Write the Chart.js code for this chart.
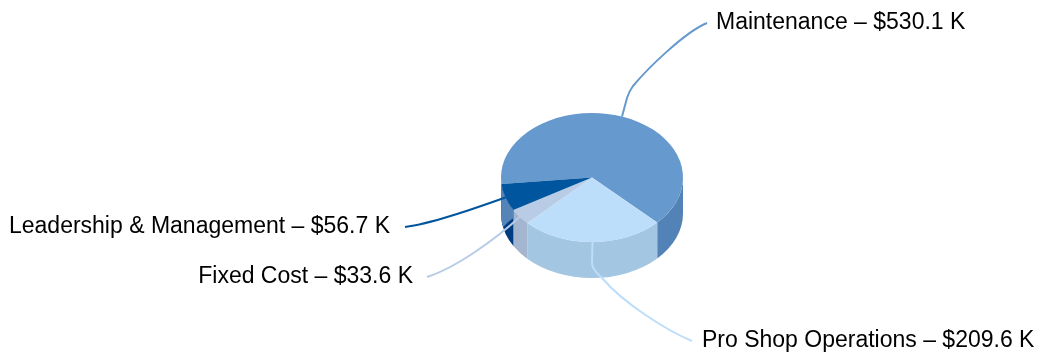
<!DOCTYPE html>
<html>
<head>
<meta charset="utf-8">
<title>Cost breakdown</title>
<script src="https://cdn.jsdelivr.net/npm/chart.js@4/dist/chart.umd.min.js"></script>
<style>
  html, body { margin: 0; padding: 0; background: #fff; }
  canvas { display: block; }
</style>
</head>
<body>
<canvas id="costPie" width="1038" height="354"></canvas>
<script>
const categories = ["Maintenance", "Pro Shop Operations", "Fixed Cost", "Leadership & Management"];
const costs = [530.1, 209.6, 33.6, 56.7];

const topColors = ["#6699cd", "#bddefa", "#b8cce6", "#00569e"];
const wallColors = ["#5382b6", "#a3c6e3", "#a3b5cf", "#003c82"];
const wallShadeColor = "#5585b8";

// squash and thickness of the fake 3d disc
const squash = 0.709;
const depth = 36;

// label text anchor and the curve running from the slice out to it
const labelLayout = [
    { x: 716, y: 29, align: "left", curve: [[627, 98], [629, 92, 630, 90, 633, 86], [648, 68, 685, 32, 707, 23]] },
    { x: 702, y: 347, align: "left", curve: [[592, 264], [594, 272, 598, 274, 602, 278], [625, 305, 670, 332, 692, 341]] },
    { x: 413, y: 283, align: "right", curve: [[495, 240, 455, 268, 427, 277]] },
    { x: 390, y: 233, align: "right", curve: [[470, 210, 430, 224, 405, 227]] }
];

function wallPath(ctx, arc, from, to) {
    const ry = arc.outerRadius * squash;
    ctx.beginPath();
    ctx.ellipse(arc.x, arc.y, arc.outerRadius, ry, 0, from, to);
    ctx.ellipse(arc.x, arc.y + depth, arc.outerRadius, ry, 0, to, from, true);
    ctx.closePath();
}

// upper part of the leadership wall is lighter, cut off by a slanted edge
function shadeWall(ctx, arc) {
    const ry = arc.outerRadius * squash;
    const from = arc.startAngle - 2 * Math.PI;
    const to = arc.endAngle - 2 * Math.PI;
    const steps = 16;
    ctx.beginPath();
    ctx.ellipse(arc.x, arc.y, arc.outerRadius, ry, 0, from, to);
    for (let i = steps; i >= 0; i--) {
        const t = from + (to - from) * i / steps;
        const f = Math.min(1, 0.22 + 1.08 * i / steps);
        ctx.lineTo(arc.x + arc.outerRadius * Math.cos(t), arc.y + ry * Math.sin(t) + depth * f);
    }
    ctx.closePath();
    ctx.fillStyle = wallShadeColor;
    ctx.fill();
}

const discPlugin = {
    id: "disc",
    beforeDatasetsDraw(chart) {
        const ctx = chart.ctx;
        const arcs = chart.getDatasetMeta(0).data;
        const twoPi = 2 * Math.PI;

        ctx.save();
        arcs.forEach((arc, i) => {
            // only the front half of the rim can be seen
            [0, twoPi].forEach(turn => {
                const from = Math.max(arc.startAngle, turn);
                const to = Math.min(arc.endAngle, turn + Math.PI);
                if (to <= from) return;
                wallPath(ctx, arc, from, to);
                ctx.fillStyle = wallColors[i];
                ctx.fill();
            });
        });
        shadeWall(ctx, arcs[3]);
        ctx.restore();

        // flatten the pie itself
        const { x, y } = arcs[0];
        ctx.save();
        ctx.translate(x, y);
        ctx.scale(1, squash);
        ctx.translate(-x, -y);
    },
    afterDatasetsDraw(chart) {
        const ctx = chart.ctx;
        ctx.restore();

        chart.getDatasetMeta(0).data.forEach((arc, i) => {
            const mid = (arc.startAngle + arc.endAngle) / 2;
            const sx = arc.x + arc.outerRadius * Math.cos(mid);
            const sy = arc.y + arc.outerRadius * squash * Math.sin(mid);
            const layout = labelLayout[i];

            ctx.save();
            ctx.strokeStyle = topColors[i];
            ctx.lineWidth = 2;
            ctx.lineJoin = "round";
            ctx.beginPath();
            ctx.moveTo(sx, sy);
            layout.curve.forEach(p => {
                if (p.length === 2) ctx.lineTo(p[0], p[1]);
                else ctx.bezierCurveTo(p[0], p[1], p[2], p[3], p[4], p[5]);
            });
            ctx.stroke();

            ctx.fillStyle = "#000";
            ctx.font = '23px "Liberation Sans", Arial, sans-serif';
            ctx.textAlign = layout.align;
            ctx.textBaseline = "alphabetic";
            ctx.fillText(categories[i] + " \u2013 $" + costs[i].toFixed(1) + " K", layout.x, layout.y);
            ctx.restore();
        });
    }
};

new Chart(document.getElementById("costPie").getContext("2d"), {
    type: "pie",
    data: {
        labels: categories,
        datasets: [{
            data: costs,
            backgroundColor: topColors,
            borderWidth: 0,
            hoverOffset: 0
        }]
    },
    options: {
        responsive: false,
        animation: false,
        events: [],
        rotation: 264.3,
        layout: { padding: { left: 501, right: 355, top: 1, bottom: 0 } },
        plugins: {
            legend: { display: false },
            tooltip: { enabled: false }
        }
    },
    plugins: [discPlugin]
});
</script>
</body>
</html>
